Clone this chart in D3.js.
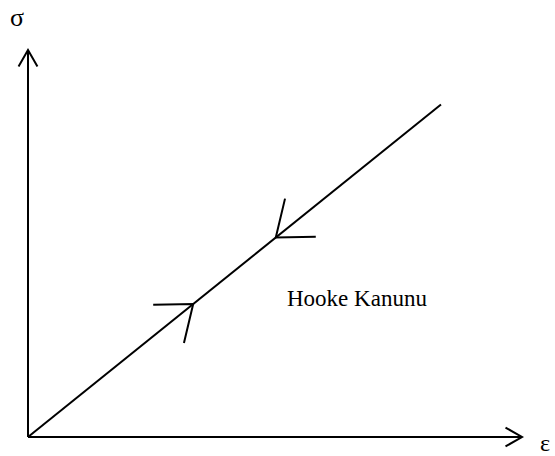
<!DOCTYPE html>
<html>
<head>
<meta charset="utf-8">
<script src="https://cdn.jsdelivr.net/npm/d3@7"></script>
<style>
  body { margin: 0; background: #fff; }
  text { font-family: "Liberation Serif", "Times New Roman", serif; fill: #000; }
</style>
</head>
<body>
<svg id="chart" width="555" height="456"></svg>
<script>
// data: strain / stress points of the elastic line (arbitrary units)
const strain = [0, 0.836]
const stress = [0, 0.859]
// where the loading / unloading arrows sit along the line (fraction) and their direction
const arrowAt = [0.40, 0.60]
const arrowDir = [1, -1]   // 1 = loading (up), -1 = unloading (down)
const axisLabels = ['ε', 'σ']
const lawLabel = 'Hooke Kanunu'

const svg = d3.select('#chart')

const margin = {top:50, bottom:19, right:33, left:28}
const width = +svg.attr('width')
const height = +svg.attr('height')
const visWidth = width - margin.left - margin.right
const visHeight = height - margin.bottom - margin.top

const xScale = d3.scaleLinear().domain([0,1]).range([0,visWidth])
const yScale = d3.scaleLinear().domain([0,1]).range([visHeight,0])

const g = svg.append('g').attr('transform', `translate(${margin.left},${margin.top})`)

const ink = {stroke:'#000', 'stroke-width':2, fill:'none'}
function styled(sel){
  Object.entries(ink).forEach(([k,v]) => sel.attr(k,v))
  return sel
}

// open "V" arrow head at (x,y) pointing at angle a (radians, screen coords)
function vHead(x, y, a, len, spread){
  const p1 = [x + len*Math.cos(a + Math.PI - spread), y + len*Math.sin(a + Math.PI - spread)]
  const p2 = [x + len*Math.cos(a + Math.PI + spread), y + len*Math.sin(a + Math.PI + spread)]
  return d3.line()([p1, [x,y], p2])
}

// axes
styled(g.append('path')).attr('d', d3.line()([[xScale(0), yScale(0)], [xScale(1), yScale(0)]]))
styled(g.append('path')).attr('d', d3.line()([[xScale(0), yScale(0)], [xScale(0), yScale(1)]]))
styled(g.append('path')).attr('d', vHead(xScale(1), yScale(0), 0, 19, 0.52))
styled(g.append('path')).attr('d', vHead(xScale(0), yScale(1), -Math.PI/2, 19, 0.52))

svg.append('text')
  .attr('x', margin.left + xScale(1) + 18).attr('y', margin.top + yScale(0) + 14)
  .attr('font-size', 24)
  .text(axisLabels[0])

svg.append('text')
  .attr('x', margin.left - 18).attr('y', margin.top - 24)
  .attr('font-size', 26)
  .text(axisLabels[1])

// the straight line
const pts = strain.map((d,i) => [xScale(d), yScale(stress[i])])
styled(g.append('path')).attr('d', d3.line()(pts))

// direction arrows on the line
const ang = Math.atan2(pts[1][1]-pts[0][1], pts[1][0]-pts[0][0])
arrowAt.forEach((t,i) => {
  const x = pts[0][0] + t*(pts[1][0]-pts[0][0])
  const y = pts[0][1] + t*(pts[1][1]-pts[0][1])
  const a = arrowDir[i] > 0 ? ang : ang + Math.PI
  styled(g.append('path')).attr('d', vHead(x, y, a, 40, 0.66))
})

svg.append('text')
  .attr('x', 287).attr('y', 306)
  .attr('font-size', 23)
  .text(lawLabel)
</script>
</body>
</html>
